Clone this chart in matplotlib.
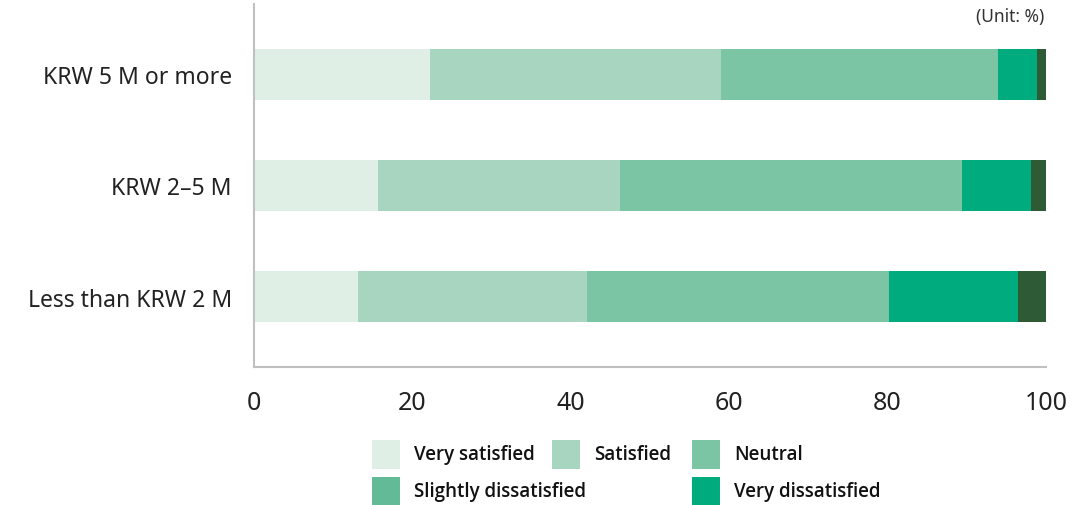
import matplotlib.pyplot as plt
from matplotlib.patches import Rectangle

# data (%)
groups = ["KRW 5 M or more", "KRW 2–5 M", "Less than KRW 2 M"]
very_satisfied = [22.2, 15.7, 13.1]
satisfied = [36.8, 30.5, 29.0]
neutral = [34.9, 43.2, 38.1]
very_dissatisfied = [5.0, 8.7, 16.3]
no_answer = [1.1, 1.9, 3.5]

legend_labels = ["Very satisfied", "Satisfied", "Neutral",
                 "Slightly dissatisfied", "Very dissatisfied"]

bar_colors = ["#e0efe6", "#a8d5bf", "#7cc5a4", "#00ac7e", "#2e5b36"]
legend_colors = ["#e0efe6", "#a8d5bf", "#7cc5a4", "#62bb96", "#00ac7e"]

plt.rcParams["font.family"] = ["Noto Sans", "DejaVu Sans"]

fig = plt.figure(figsize=(10.89, 5.06), dpi=100)
ax = fig.add_axes([254 / 1089, 1 - 368 / 506, 792 / 1089, 363 / 506])

series = [very_satisfied, satisfied, neutral, very_dissatisfied, no_answer]
y = list(range(len(groups)))
left = [0.0] * len(groups)
for vals, col in zip(series, bar_colors):
    ax.barh(y, vals, left=left, height=0.46, color=col, linewidth=0)
    left = [a + b for a, b in zip(left, vals)]

ax.set_xlim(0, 100)
ax.set_ylim(2.635, -0.635)
ax.set_yticks(y)
ax.set_yticklabels(groups, fontsize=16.5, color="#222222")
ax.set_xticks([0, 20, 40, 60, 80, 100])
ax.tick_params(axis="both", length=0)
ax.tick_params(axis="y", pad=16)
ax.tick_params(axis="x", pad=16.5, labelsize=18, labelcolor="#222222")

for s in ["top", "right"]:
    ax.spines[s].set_visible(False)
for s in ["left", "bottom"]:
    ax.spines[s].set_color("#c0c0c0")
    ax.spines[s].set_linewidth(1.5)

fig.text(1044 / 1089, 1 - 17 / 506, "(Unit: %)", ha="right", va="center",
         fontsize=12.5, color="#333333")

# legend laid out as a grid
slots = [(372, 455), (552, 455), (692, 455), (372, 492), (692, 492)]
for (px, py), lab, col in zip(slots, legend_labels, legend_colors):
    fig.add_artist(Rectangle((px / 1089, 1 - (py + 14.5) / 506), 28 / 1089, 29 / 506,
                             transform=fig.transFigure, color=col, linewidth=0))
    fig.text((px + 42) / 1089, 1 - py / 506, lab, ha="left", va="center",
             fontsize=13.5, fontweight="semibold", color="#111111",
             family=["Open Sans", "Noto Sans", "DejaVu Sans"])

fig.savefig("out.png", dpi=100)
